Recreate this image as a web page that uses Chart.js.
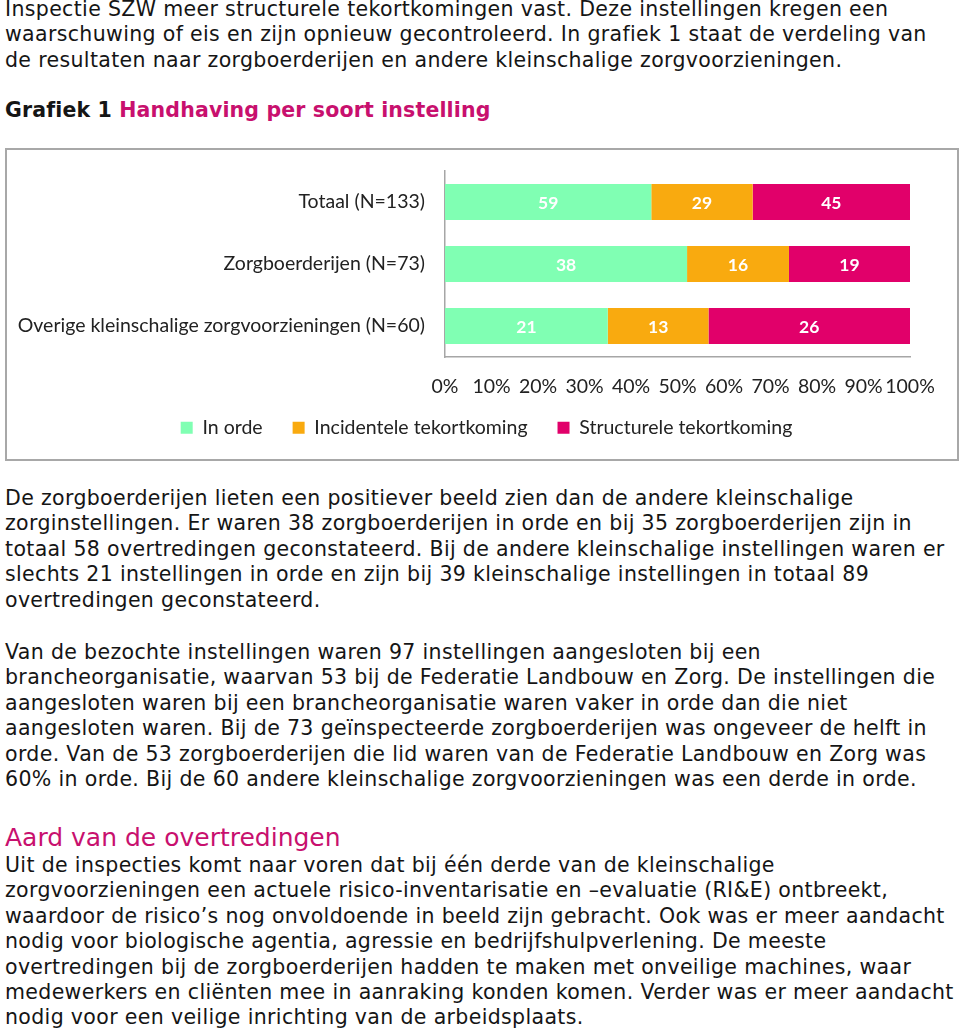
<!DOCTYPE html>
<html>
<head>
<meta charset="utf-8">
<script src="https://cdn.jsdelivr.net/npm/chart.js@4/dist/chart.umd.min.js"></script>
<style>
  body { margin: 0; background: #fff; width: 960px; height: 1032px; overflow: hidden; position: relative;
         font-family: "DejaVu Sans", Verdana, sans-serif; font-size: 20.5px; letter-spacing: 0.35px; color: #151515; }
  .t { position: absolute; left: 5px; line-height: 25.4px; white-space: nowrap; }
  .pink { color: #c8106e; }
  #box { position: absolute; left: 5px; top: 148px; width: 950px; height: 309px; border: 2px solid #a8a8a8; pointer-events: none; }
  #wrap { position: absolute; left: 7px; top: 150px; width: 950px; height: 309px; letter-spacing: 0; }
</style>
</head>
<body>
<div class="t" style="top:-3px">Inspectie SZW meer structurele tekortkomingen vast. Deze instellingen kregen een<br>waarschuwing of eis en zijn opnieuw gecontroleerd. In grafiek 1 staat de verdeling van<br>de resultaten naar zorgboerderijen en andere kleinschalige zorgvoorzieningen.</div>
<div class="t" style="top:98px;font-weight:bold;letter-spacing:0.15px">Grafiek 1 <span class="pink">Handhaving per soort instelling</span></div>

<div id="wrap"><canvas id="chart"></canvas></div>
<div id="box"></div>

<div class="t" style="top:486px">De zorgboerderijen lieten een positiever beeld zien dan de andere kleinschalige<br>zorginstellingen. Er waren 38 zorgboerderijen in orde en bij 35 zorgboerderijen zijn in<br>totaal 58 overtredingen geconstateerd. Bij de andere kleinschalige instellingen waren er<br>slechts 21 instellingen in orde en zijn bij 39 kleinschalige instellingen in totaal 89<br>overtredingen geconstateerd.</div>
<div class="t" style="top:640px">Van de bezochte instellingen waren 97 instellingen aangesloten bij een<br>brancheorganisatie, waarvan 53 bij de Federatie Landbouw en Zorg. De instellingen die<br>aangesloten waren bij een brancheorganisatie waren vaker in orde dan die niet<br>aangesloten waren. Bij de 73 geïnspecteerde zorgboerderijen was ongeveer de helft in<br>orde. Van de 53 zorgboerderijen die lid waren van de Federatie Landbouw en Zorg was<br>60% in orde. Bij de 60 andere kleinschalige zorgvoorzieningen was een derde in orde.</div>
<div class="t pink" style="top:823px;font-size:25px;line-height:30px;letter-spacing:0">Aard van de overtredingen</div>
<div class="t" style="top:853px">Uit de inspecties komt naar voren dat bij één derde van de kleinschalige<br>zorgvoorzieningen een actuele risico-inventarisatie en –evaluatie (RI&amp;E) ontbreekt,<br>waardoor de risico’s nog onvoldoende in beeld zijn gebracht. Ook was er meer aandacht<br>nodig voor biologische agentia, agressie en bedrijfshulpverlening. De meeste<br>overtredingen bij de zorgboerderijen hadden te maken met onveilige machines, waar<br>medewerkers en cliënten mee in aanraking konden komen. Verder was er meer aandacht<br>nodig voor een veilige inrichting van de arbeidsplaats.</div>

<script>
// gegevens uit grafiek 1 (aantallen instellingen)
const categories = ['Totaal (N=133)', 'Zorgboerderijen (N=73)', 'Overige kleinschalige zorgvoorzieningen (N=60)'];
const seriesNames = ['In orde', 'Incidentele tekortkoming', 'Structurele tekortkoming'];
const inOrde = [59, 38, 21];
const incidenteel = [29, 16, 13];
const structureel = [45, 19, 26];
const tickLabels = ['0%', '10%', '20%', '30%', '40%', '50%', '60%', '70%', '80%', '90%', '100%'];
const colors = ['#80ffb3', '#f9aa0f', '#e1006a'];

const counts = [inOrde, incidenteel, structureel];
const totals = categories.map((c, i) => inOrde[i] + incidenteel[i] + structureel[i]);

// aantallen als witte labels midden in de balk
const countLabels = {
    id: 'countLabels',
    afterDatasetsDraw(chart) {
        const c = chart.ctx;
        c.save();
        c.fillStyle = '#fff';
        c.font = 'bold 17.5px Lato, sans-serif';
        c.textAlign = 'center';
        c.textBaseline = 'middle';
        chart.data.datasets.forEach((ds, d) => {
            chart.getDatasetMeta(d).data.forEach((bar, i) => {
                c.fillText(counts[d][i], (bar.x + bar.base) / 2, bar.y + 1);
            });
        });
        c.restore();
    }
};

// legenda iets verschuiven, zoals in het origineel
const legendShift = {
    id: 'legendShift',
    afterLayout(chart) {
        const lg = chart.legend;
        if (!lg) return;
        lg.left += 28; lg.right += 28;
        lg.top -= 9; lg.bottom -= 9;
    }
};

const ctx = document.getElementById('chart');

new Chart(ctx, {
    type: 'bar',
    data: {
        labels: categories,
        datasets: seriesNames.map((name, d) => ({
            label: name,
            data: counts[d].map((v, i) => v / totals[i] * 100),
            backgroundColor: colors[d],
            borderWidth: 0,
            barPercentage: 0.58,
            categoryPercentage: 1
        }))
    },
    options: {
        indexAxis: 'y',
        responsive: true,
        maintainAspectRatio: false,
        animation: false,
        layout: { padding: { top: 21, right: 47, bottom: 2.5, left: 0 } },
        plugins: {
            tooltip: { enabled: false },
            legend: {
                position: 'bottom',
                labels: {
                    boxWidth: 12, boxHeight: 12, padding: 30,
                    color: '#222', font: { family: 'Lato', size: 19.5 }
                }
            }
        },
        scales: {
            x: {
                stacked: true, min: 0, max: 100,
                grid: { display: false, drawTicks: false },
                border: { display: true, color: '#a6a6a6', width: 1.5 },
                ticks: {
                    stepSize: 10, padding: 18, color: '#222',
                    maxRotation: 0, minRotation: 0, autoSkip: false,
                    font: { family: 'Lato', size: 19.5 },
                    callback: (v, i) => tickLabels[i]
                },
                afterFit: s => { s.height = 40; }
            },
            y: {
                stacked: true,
                grid: { display: true, drawOnChartArea: false, drawTicks: true, tickLength: 20, color: 'transparent', tickColor: 'transparent' },
                border: { display: true, color: '#a6a6a6', width: 1.5 },
                ticks: { padding: 0, color: '#222', font: { family: 'Lato', size: 19.5 } },
                afterFit: s => { s.width = 438; }
            }
        }
    },
    plugins: [countLabels, legendShift]
});
</script>
</body>
</html>
